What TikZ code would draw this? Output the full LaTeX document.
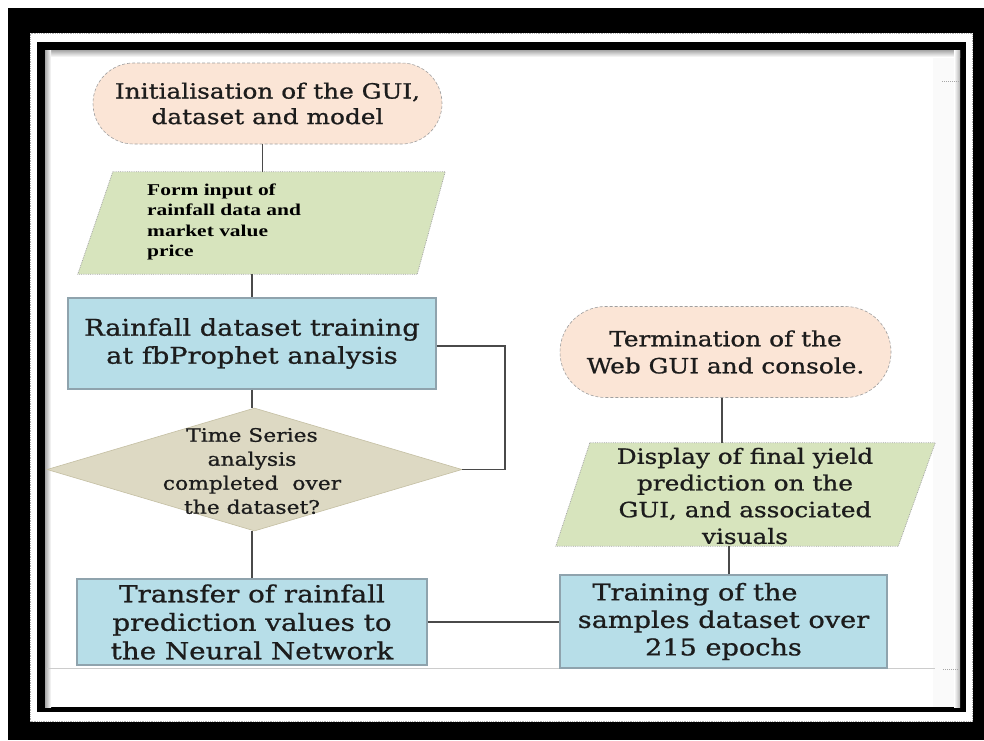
\documentclass[tikz,border=0pt]{standalone}
\usepackage{fontspec}
\setmainfont{DejaVu Serif}[FakeStretch=1.18, FakeBold=0.9]
\newfontfamily\timesbold{Liberation Serif}[FakeStretch=1.3]
\usetikzlibrary{shapes.geometric,shapes.misc}
\definecolor{peach}{HTML}{FBE5D6}
\definecolor{lgreen}{HTML}{D7E4BD}
\definecolor{lblue}{HTML}{B7DEE8}
\definecolor{tanfill}{HTML}{DDD9C3}
\definecolor{tanedge}{HTML}{C4BFA3}
\definecolor{boxedge}{HTML}{8FA3AD}
\definecolor{linec}{HTML}{4A4A4A}
\definecolor{txtc}{HTML}{1C1C1C}
\begin{document}
\begin{tikzpicture}[x=1pt,y=-1pt,
  termbox/.style={rounded rectangle, draw=gray!75, densely dashed, line width=0.6pt, fill=peach, inner sep=0pt, text=txtc, align=center},
  procbox/.style={rectangle, draw=boxedge, line width=1.2pt, fill=lblue, inner sep=0pt, text=txtc, align=center},
  slantedge/.style={draw=gray!70, densely dotted, line width=0.8pt, fill=lgreen},
  conn/.style={draw=linec, line width=1.6pt},
  lbl/.style={text=txtc, inner sep=0pt},
  holder/.style={rectangle, inner sep=0pt, draw=none}
]
\useasboundingbox (0,0) rectangle (984,740);
% frame
\fill[white] (0,0) rectangle (984,740);
\fill[black] (8,8) rectangle (984,740);
\fill[white] (30,33) rectangle (973,722);
\draw[gray!60, densely dotted, line width=0.8pt] (30.5,33.5) rectangle (972.5,721.5);
\fill[black] (37,42) rectangle (966,712);
\fill[white] (45,50) rectangle (960,707);
\fill[gray!4] (933,50) rectangle (960,707);
\shade[top color=gray!70, bottom color=white] (45,50) rectangle (960,57);
\shade[left color=gray!70, right color=white] (45,50) rectangle (51,707);
\shade[left color=white, right color=gray!60] (954,50) rectangle (960,707);
\draw[gray!40, line width=1pt] (47,668) -- (935,668);
\draw[gray!70, densely dotted, line width=1pt] (943,669) -- (958,669);
\draw[gray!70, densely dotted, line width=1pt] (942,81) -- (960,81);

% nodes
\node[termbox, minimum width=349, minimum height=81, font=\fontsize{21pt}{25.5pt}\selectfont] (start) at (267.5,103.5) {Initialisation of the GUI,\\dataset and model};

\node[holder, minimum width=367, minimum height=102] (inp) at (261.5,223) {};
\draw[slantedge] ([xshift=35]inp.north west) -- (inp.north east) -- ([xshift=-28]inp.south east) -- (inp.south west) -- cycle;
\node[lbl, text=black, anchor=west, align=left, font=\timesbold\bfseries\fontsize{16.5pt}{20.5pt}\selectfont] (inpt) at (147,222) {Form input of\\rainfall data and\\market value\\price};

\node[procbox, minimum width=368, minimum height=91, font=\fontsize{23pt}{28pt}\selectfont] (rain) at (252,343.5) {Rainfall dataset training\\at fbProphet analysis};

\node[diamond, fill=tanfill, draw=tanedge, line width=0.6pt, minimum width=415, minimum height=123, inner sep=0pt] (dia) at (254.5,469.5) {};
\node[lbl, align=center, font=\fontsize{18.5pt}{24pt}\selectfont] (diat) at (252,471) {Time Series\\analysis\\completed\ \ over\\the dataset?};

\node[procbox, minimum width=350, minimum height=86, font=\fontsize{23.5pt}{28.5pt}\selectfont] (tran) at (252,622) {Transfer of rainfall\\prediction values to\\the Neural Network};

\node[procbox, minimum width=327, minimum height=93, font=\fontsize{23pt}{27.5pt}\selectfont] (train) at (723.5,621.5) {Training of the\hspace*{57pt}\\samples dataset over\\215 epochs};

\node[holder, minimum width=379, minimum height=103] (disp) at (745.5,494.5) {};
\draw[slantedge] ([xshift=34]disp.north west) -- (disp.north east) -- ([xshift=-37]disp.south east) -- (disp.south west) -- cycle;
\node[lbl, align=center, font=\fontsize{21pt}{26.7pt}\selectfont] (dispt) at (745,496) {Display of final yield\\prediction on the\\GUI, and associated\\visuals};

\node[termbox, minimum width=331, minimum height=91, font=\fontsize{21pt}{27pt}\selectfont] (stop) at (725.5,352) {Termination of the\\Web GUI and console.};

% connectors
\coordinate (loop) at (505,346);
\draw[conn] ([xshift=-5]start.south) -- ([xshift=-5]start.south |- inp.north);
\draw[conn] (inp.south -| rain.north) -- (rain.north);
\draw[conn] (rain.south) -- (rain.south |- dia.north);
\draw[conn] (dia.south -| tran.north) -- (tran.north);
\draw[conn] (rain.east |- loop) -- (loop) |- (dia.east);
\draw[conn] (tran.east) -- (tran.east -| train.west);
\draw[conn] ([xshift=5.5]train.north) -- ([xshift=5.5]train.north |- disp.south);
\draw[conn] ([xshift=-3.5]stop.south |- disp.north) -- ([xshift=-3.5]stop.south);
\end{tikzpicture}
\end{document}
